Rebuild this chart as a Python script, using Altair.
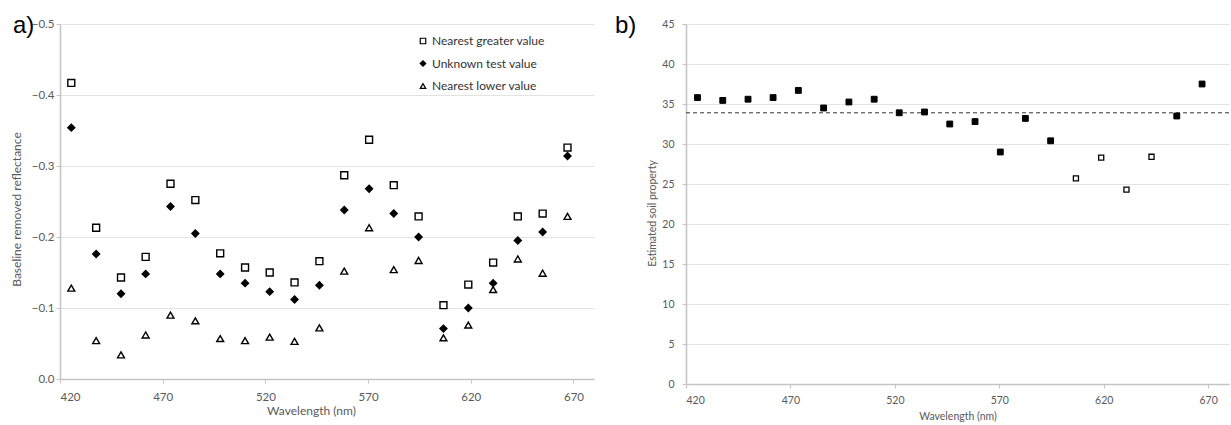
import altair as alt
import pandas as pd

# ---------------- data ----------------
wavelength = [425.5, 437.6, 449.7, 461.7, 473.8, 485.9, 498.0, 510.1, 522.1, 534.2,
              546.3, 558.4, 570.5, 582.5, 594.6, 606.7, 618.8, 630.9, 642.9, 655.0, 667.1]

nearest_greater = [-0.417, -0.213, -0.143, -0.172, -0.275, -0.252, -0.177, -0.157, -0.150, -0.136,
                   -0.166, -0.287, -0.337, -0.273, -0.229, -0.104, -0.133, -0.164, -0.229, -0.233, -0.326]
unknown_test = [-0.354, -0.176, -0.120, -0.148, -0.243, -0.205, -0.148, -0.135, -0.123, -0.112,
                -0.132, -0.238, -0.268, -0.233, -0.200, -0.071, -0.100, -0.135, -0.195, -0.207, -0.314]
nearest_lower = [-0.128, -0.054, -0.034, -0.062, -0.090, -0.082, -0.057, -0.054, -0.059, -0.053,
                 -0.072, -0.152, -0.213, -0.154, -0.167, -0.058, -0.076, -0.126, -0.169, -0.149, -0.229]

series_names = ["Nearest greater value", "Unknown test value", "Nearest lower value"]

estimated = [35.8, 35.45, 35.6, 35.8, 36.7, 34.5, 35.25, 35.6, 33.9, 34.0,
             32.5, 32.8, 29.0, 33.2, 30.4, 25.7, 28.3, 24.3, 28.4, 33.5, 37.5]
estimate_kind = ["filled"] * 15 + ["open"] * 4 + ["filled"] * 2
reference_value = [33.9]

x_ticks = [420, 470, 520, 570, 620, 670]
ya_ticks = [-0.5, -0.4, -0.3, -0.2, -0.1, 0.0]
yb_ticks = [0, 5, 10, 15, 20, 25, 30, 35, 40, 45]

# ---------------- tables ----------------
df_a = pd.DataFrame({
    "Wavelength": wavelength * 3,
    "Value": nearest_greater + unknown_test + nearest_lower,
    "Series": [series_names[0]] * len(wavelength)
              + [series_names[1]] * len(wavelength)
              + [series_names[2]] * len(wavelength),
})
df_b = pd.DataFrame({"Wavelength": wavelength, "Estimate": estimated, "Kind": estimate_kind})
df_ref = pd.DataFrame({"Estimate": reference_value})

FONT = "Lato"
LABEL_COLOR = "#595959"
AXIS_COLOR = "#c4c4c4"
GRID_COLOR = "#e3e3e3"

# ---------------- panel a ----------------
xa = alt.X("Wavelength:Q",
           scale=alt.Scale(domain=[420, 680], nice=False, zero=False),
           axis=alt.Axis(values=x_ticks, format="d", title="Wavelength (nm)", grid=False,
                         labelFontSize=11.5, titleFontSize=12, titleFontWeight="normal",
                         titleX=251, titlePadding=3, labelPadding=8, tickSize=4,
                         labelOverlap=False))
ya = alt.Y("Value:Q",
           scale=alt.Scale(domain=[-0.5, 0.0], reverse=True, nice=False, zero=False),
           axis=alt.Axis(values=ya_ticks, format=".1f", title="Baseline removed reflectance",
                         labelFontSize=11.5, titleFontSize=12, titleFontWeight="normal",
                         titleY=185, titlePadding=8, labelPadding=2, tickSize=4,
                         labelOverlap=False))

legend_a = alt.Legend(title=None, orient="none", legendX=357, legendY=11,
                      labelFontSize=12, labelFont=FONT, labelColor="#333333",
                      labelFontWeight="normal",
                      symbolSize=30, symbolStrokeWidth=1.2, rowPadding=10.5,
                      labelOffset=3)

points_a = alt.Chart(df_a).mark_point(size=48, strokeWidth=1.4, opacity=1).encode(
    x=xa,
    y=ya,
    shape=alt.Shape("Series:N",
                    scale=alt.Scale(domain=series_names, range=["square", "diamond", "triangle-up"]),
                    legend=legend_a),
    fill=alt.Fill("Series:N",
                  scale=alt.Scale(domain=series_names, range=["white", "black", "white"]),
                  legend=legend_a),
    stroke=alt.Stroke("Series:N",
                      scale=alt.Scale(domain=series_names, range=["black", "black", "black"]),
                      legend=legend_a),
)

label_a = alt.Chart(pd.DataFrame({"t": ["a)"]})).mark_text(
    font="Liberation Sans", fontSize=24, align="left", baseline="alphabetic", color="black"
).encode(x=alt.value(-47), y=alt.value(9), text="t:N")

panel_a = alt.layer(points_a, label_a).properties(width=534, height=355)

# ---------------- panel b ----------------
xb = alt.X("Wavelength:Q",
           scale=alt.Scale(domain=[420, 680], nice=False, zero=False),
           axis=alt.Axis(values=x_ticks, format="d", title="Wavelength (nm)", grid=False,
                         labelFontSize=10.5, titleFontSize=10.5, titleFontWeight="normal",
                         titlePadding=6, labelPadding=7, tickSize=4, labelOverlap=False))
yb = alt.Y("Estimate:Q",
           scale=alt.Scale(domain=[0, 45], nice=False),
           axis=alt.Axis(values=yb_ticks, format="d", title="Estimated soil property",
                         labelFontSize=10.5, titleFontSize=10.5, titleFontWeight="normal",
                         titleY=189, titlePadding=4, labelPadding=8, tickSize=4,
                         labelOverlap=False))

base_b = alt.Chart(df_b).encode(x=xb, y=yb)

filled_b = base_b.transform_filter(alt.datum.Kind == "filled").mark_point(
    shape="square", size=34, strokeWidth=1.0, opacity=1, stroke="black", fill="black", filled=False)
open_b = base_b.transform_filter(alt.datum.Kind == "open").mark_point(
    shape="square", size=26, strokeWidth=1.3, opacity=1, stroke="black", fill="white", filled=False)

ref_rule = alt.Chart(df_ref).mark_rule(color="#333333", strokeDash=[4, 3], strokeWidth=1).encode(
    y=yb
)

label_b = alt.Chart(pd.DataFrame({"t": ["b)"]})).mark_text(
    font="Liberation Sans", fontSize=24, align="left", baseline="alphabetic", color="black"
).encode(x=alt.value(-71), y=alt.value(9), text="t:N")

panel_b = alt.layer(ref_rule, filled_b, open_b, label_b).properties(width=543, height=360)

chart = alt.hconcat(panel_a, panel_b, spacing=92, bounds="flush").resolve_scale(
    fill="independent", shape="independent", stroke="independent"
).resolve_legend(fill="independent", shape="independent", stroke="independent").configure_view(
    stroke=None
).configure_axis(
    labelFont=FONT, titleFont=FONT, labelColor=LABEL_COLOR, titleColor=LABEL_COLOR,
    domainColor=AXIS_COLOR, tickColor=AXIS_COLOR, gridColor=GRID_COLOR,
    domainWidth=1.5, tickWidth=1, gridWidth=1
).properties(padding={"left": 10, "top": 14, "right": 0, "bottom": 0}, background="white")

chart.save("out.html", embed_options={"renderer": "svg", "actions": False})
